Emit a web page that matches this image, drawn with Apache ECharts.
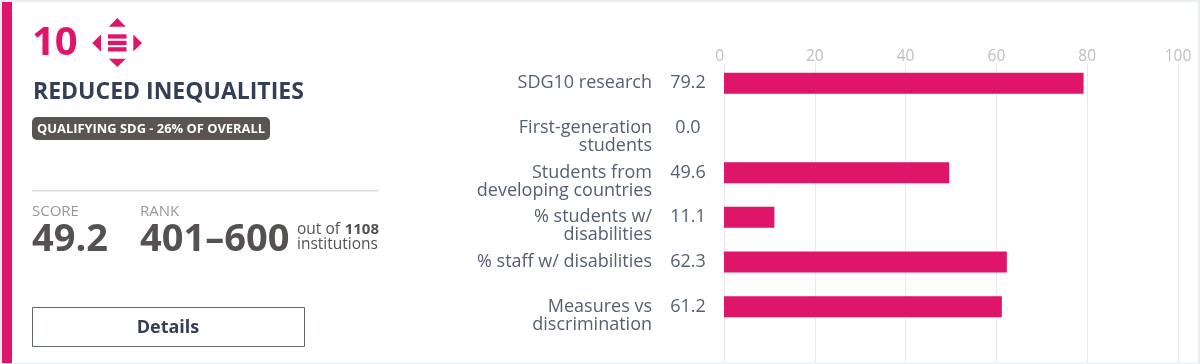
<!DOCTYPE html>
<html>
<head>
<meta charset="utf-8">
<style>
  html, body { margin: 0; padding: 0; background: #fff; }
  #chart { width: 1200px; height: 364px; }
</style>
<script src="https://cdn.jsdelivr.net/npm/echarts@6/dist/echarts.min.js"></script>
</head>
<body>
<div id="chart"></div>
<script>
const categories = [
  'SDG10 research',
  'First-generation\nstudents',
  'Students from\ndeveloping countries',
  '% students w/\ndisabilities',
  '% staff w/ disabilities',
  'Measures vs\ndiscrimination'
];
const scores = [79.2, 0.0, 49.6, 11.1, 62.3, 61.2];
const scoreLabels = ['79.2', '0.0', '49.6', '11.1', '62.3', '61.2'];
const ticks = [0, 20, 40, 60, 80, 100];

const PINK = '#de1568';
const NAVY = '#333f55';
const GREY = '#555150';
const FONT = '"Open Sans", sans-serif';

function txt(x, y, text, size, weight, color, align) {
  return {
    type: 'text',
    x: x,
    y: y,
    style: {
      text: text,
      fill: color,
      font: weight + ' ' + size + 'px ' + FONT,
      align: align || 'left',
      verticalAlign: 'middle'
    }
  };
}

function poly(points, color) {
  return { type: 'polygon', shape: { points: points }, style: { fill: color } };
}

function box(x, y, w, h, style, r) {
  return { type: 'rect', shape: { x: x, y: y, width: w, height: h, r: r || 0 }, style: style };
}

// card frame and left panel
const panel = [
  box(0, 0, 1200, 2, { fill: '#e9eef2' }),
  box(0, 362.5, 1200, 1.5, { fill: '#eceff1' }),
  box(0, 0, 2, 364, { fill: '#e9eef2' }),
  box(1198, 0, 2, 364, { fill: '#e9eef2' }),
  box(2, 2, 10, 361, { fill: PINK }),

  txt(32, 44, '10', 40, 'bold', PINK),
  poly([[117.3, 18], [125.8, 26.8], [108.8, 26.8]], PINK),
  poly([[117.3, 67], [125.8, 58.8], [108.8, 58.8]], PINK),
  poly([[92.3, 43], [101, 34.5], [101, 51.5]], PINK),
  poly([[142, 43], [133.3, 34.5], [133.3, 51.5]], PINK),
  box(108, 34.3, 18.5, 4.3, { fill: PINK }),
  box(108, 40.8, 18.5, 4.3, { fill: PINK }),
  box(108, 47.2, 18.5, 4.3, { fill: PINK }),

  txt(33, 92.5, 'REDUCED INEQUALITIES', 23, 'bold', NAVY),
  box(32, 117, 238, 23, { fill: '#5a5452' }, 5),
  txt(37, 129, 'QUALIFYING SDG - 26% OF OVERALL', 12.9, 'bold', '#fff'),

  box(32, 190, 347, 1.5, { fill: '#dddddd' }),
  txt(32, 212, 'SCORE', 15, 'normal', '#999'),
  txt(140, 212, 'RANK', 15, 'normal', '#999'),
  txt(32, 240, '49.2', 38, 'bold', GREY),
  txt(140, 240, '401–600', 38, 'bold', GREY),
  txt(297, 230, 'out of', 15.5, 'normal', GREY),
  txt(379, 230, '1108', 15, 'bold', GREY, 'right'),
  txt(297, 245, 'institutions', 15.5, 'normal', GREY),

  box(32.5, 307.5, 272, 39, { fill: '#fff', stroke: '#5f6672', lineWidth: 1 }),
  txt(168, 328, 'Details', 18, 'bold', NAVY, 'center')
];

const chart = echarts.init(document.getElementById('chart'));
chart.setOption({
  animation: false,
  textStyle: { fontFamily: FONT },
  graphic: panel,
  grid: [
    // backdrop grid: only carries the top scale and the long gridlines
    { left: 724, top: 63, width: 454, height: 299 },
    { left: 724, top: 61, width: 454, height: 268 }
  ],
  xAxis: [
    {
      gridIndex: 0,
      type: 'value',
      position: 'top',
      min: ticks[0],
      max: ticks[ticks.length - 1],
      interval: ticks[1] - ticks[0],
      axisLine: { show: false },
      axisTick: { show: false },
      axisLabel: {
        color: '#bfbfbf',
        fontSize: 15.5,
        margin: 6,
        verticalAlign: 'middle',
        alignMinLabel: 'right',
        hideOverlap: false
      },
      splitLine: { show: true, lineStyle: { color: '#e9e9ec', width: 1 } }
    },
    { gridIndex: 1, type: 'value', min: ticks[0], max: ticks[ticks.length - 1], show: false }
  ],
  yAxis: [
    { gridIndex: 0, type: 'value', show: false },
    {
      gridIndex: 1,
      type: 'category',
      inverse: true,
      data: categories,
      axisLine: { show: false },
      axisTick: { show: false },
      axisLabel: {
        color: '#545f72',
        fontSize: 18,
        lineHeight: 18,
        margin: 72,
        interval: 0,
        // first line sits level with the bar, second line hangs below
        formatter: v => v.includes('\n') ? '\n' + v : v
      }
    },
    {
      gridIndex: 1,
      type: 'category',
      position: 'left',
      inverse: true,
      data: scoreLabels,
      axisLine: { show: false },
      axisTick: { show: false },
      axisLabel: { color: '#545f72', fontSize: 18, align: 'center', margin: 36, interval: 0 }
    }
  ],
  series: [{
    type: 'bar',
    xAxisIndex: 1,
    yAxisIndex: 1,
    data: scores,
    barWidth: 21,
    itemStyle: { color: PINK }
  }]
});
</script>
</body>
</html>
